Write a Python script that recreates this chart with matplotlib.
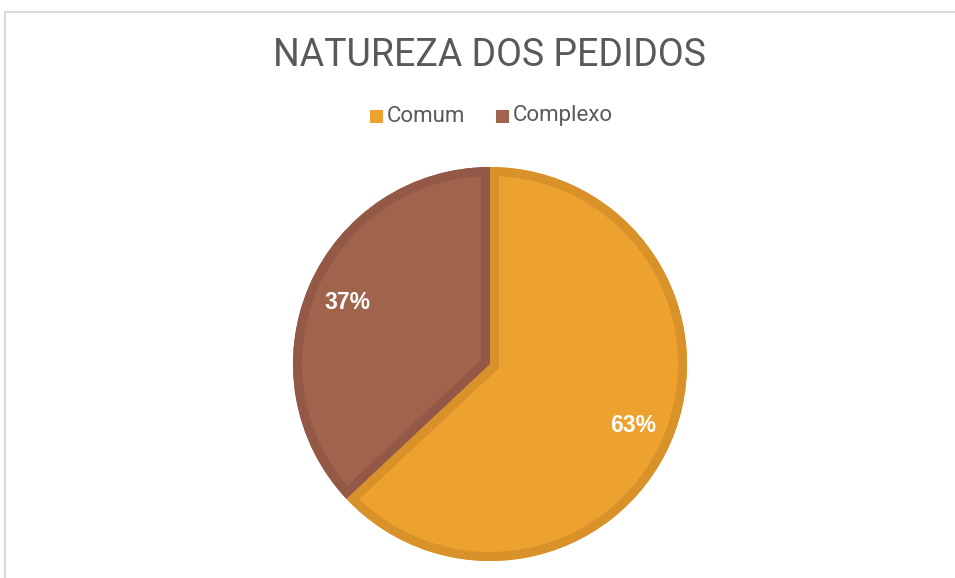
import matplotlib
matplotlib.use("Agg")
import matplotlib.pyplot as plt
from matplotlib.lines import Line2D
from matplotlib.patches import Rectangle, Wedge

categories = ["Comum", "Complexo"]
values = [63, 37]
fill_colors = ["#EDA22F", "#A0634B"]
edge_colors = ["#D9912A", "#935846"]
title = "NATUREZA DOS PEDIDOS"

plt.rcParams['font.family'] = ['Roboto', 'DejaVu Sans']

W, H = 955, 578
fig = plt.figure(figsize=(W / 100, H / 100), dpi=100)
fig.patch.set_facecolor("white")

# border lines (top and left)
fig.add_artist(Line2D([5 / W, 1], [1 - 12 / H, 1 - 12 / H], color="#D9D9D9", lw=1.5))
fig.add_artist(Line2D([5 / W, 5 / W], [0, 1 - 12 / H], color="#D9D9D9", lw=1.5))

cx, cy, r = 490, 364, 197
ax = fig.add_axes([(cx - r) / W, (H - cy - r) / H, 2 * r / W, 2 * r / H])
wedges, texts, autotexts = ax.pie(
    values, colors=fill_colors, startangle=90, counterclock=False,
    autopct="%1.0f%%", pctdistance=0.79,
    textprops=dict(color="white", fontsize=16.5, fontweight="bold",
                   family=['Liberation Sans', 'DejaVu Sans']),
    wedgeprops=dict(linewidth=0),
)
ax.set_xlim(-1, 1)
ax.set_ylim(-1, 1)
ax.set_aspect("equal")
ax.axis("off")

# inner borders: stroke each wedge and clip to the wedge itself
for w, ec in zip(wedges, edge_colors):
    clip = Wedge(w.center, w.r, w.theta1, w.theta2, transform=ax.transData)
    border = Wedge(w.center, w.r, w.theta1, w.theta2, facecolor="none",
                   edgecolor=ec, linewidth=13, zorder=w.get_zorder() + 0.1)
    ax.add_patch(border)
    border.set_clip_path(clip)

fig.text(489 / W, 1 - 55 / H, title, ha="center", va="center",
         fontsize=27, color="#595959")

# legend
ly = 1 - 116 / H
sq = 13
items = [(370, categories[0], fill_colors[0]), (496, categories[1], fill_colors[1])]
for x, lab, col in items:
    fig.add_artist(Rectangle((x / W, ly - sq / 2 / H), sq / W, sq / H,
                             facecolor=col, edgecolor="none", transform=fig.transFigure))
    fig.text((x + sq + 4) / W, ly, lab, ha="left", va="center",
             fontsize=16, color="#595959")

fig.savefig("out.png", dpi=100)
